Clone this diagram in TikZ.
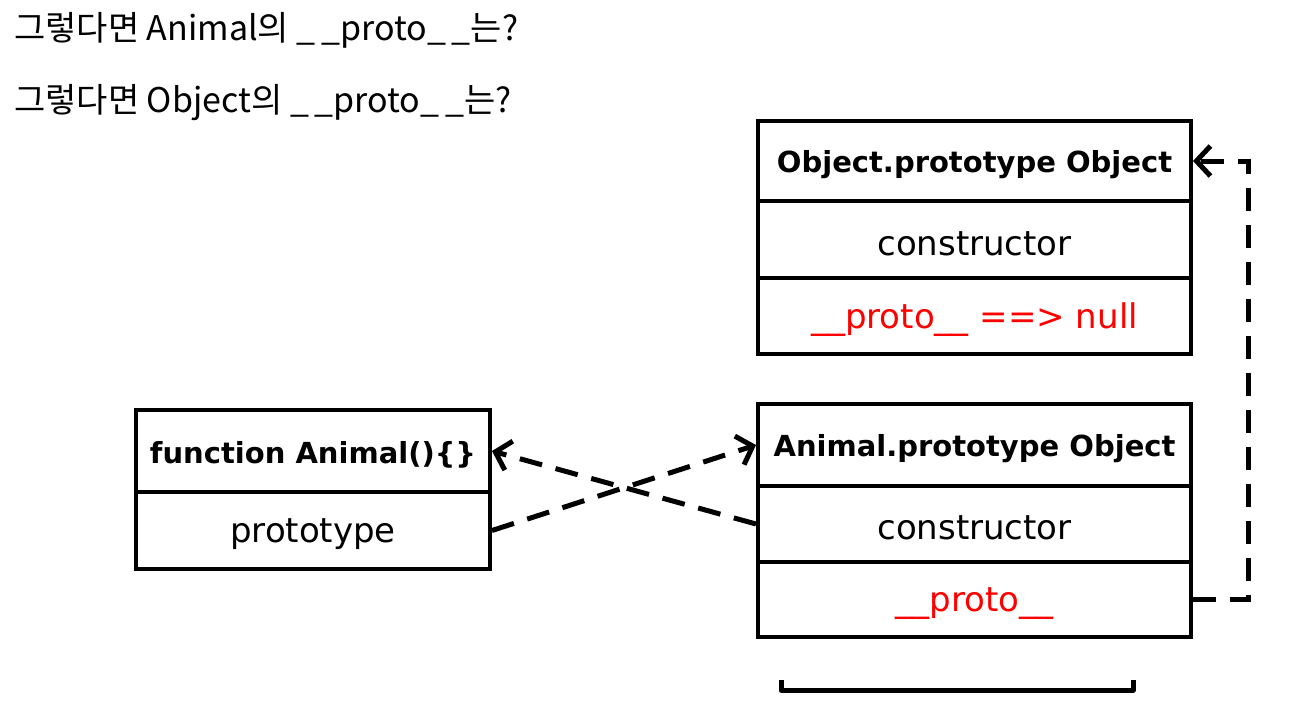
\documentclass[tikz,border=0pt]{standalone}
\usepackage{fontspec}
\setmainfont{DejaVu Sans}
\newfontfamily\kofont{Noto Sans CJK KR}
\usetikzlibrary{arrows.meta,calc}
\definecolor{pred}{HTML}{FF0000}
\newcommand{\lowr}[1]{\raisebox{-4pt}[\height][\depth]{#1}}
\tikzset{
  cell/.style={draw, line width=4pt, inner sep=0pt, rectangle, minimum width=433pt},
  fcell/.style={cell, minimum width=354pt},
  headtxt/.style={font=\fontsize{29}{32}\selectfont\bfseries},
  bodytxt/.style={font=\fontsize{34}{38}\selectfont},
  qtxt/.style={font=\kofont\fontsize{34}{38}\selectfont, anchor=west, inner sep=0pt},
  link/.style={line width=5pt, dash pattern=on 23pt off 14pt, -{Straight Barb[length=14pt,width=30pt,line width=5pt]}},
}
\begin{document}
\begin{tikzpicture}[x=1pt,y=-1pt]
\useasboundingbox (0,0) rectangle (1289,705);
\node[qtxt] (q1) at (14,30) {그렇다면 Animal의 \_\,\_proto\_\,\_는?};
\node[qtxt] (q2) at (14,103) {그렇다면 Object의 \_\,\_proto\_\,\_는?};
% Object.prototype
\node[cell, minimum height=80pt, headtxt] (oh) at (974.5,161) {\lowr{Object.prototype Object}};
\node[cell, minimum height=77pt, bodytxt] (oc) at (974.5,239.5) {\lowr{constructor}};
\node[cell, minimum height=76pt, bodytxt, text=pred] (op) at (974.5,316) {\lowr{\_\_proto\_\_ ==> null}};
% Animal.prototype
\node[cell, minimum height=82pt, headtxt] (ah) at (974.5,445) {\lowr{Animal.prototype Object}};
\node[cell, minimum height=76pt, bodytxt] (ac) at (974.5,524) {\lowr{constructor}};
\node[cell, minimum height=75pt, bodytxt, text=pred] (ap) at (974.5,599.5) {\lowr{\_\_proto\_\_}};
% function Animal
\node[fcell, minimum height=82pt, headtxt] (fh) at (313,451) {\lowr{function Animal()\{\}}};
\node[fcell, minimum height=77pt, bodytxt] (fp) at (313,530.5) {\lowr{prototype}};
% connectors
\draw[link] (fp.east) -- (ah.west);
\draw[link] (ac.west) -- (fh.east);
\draw[link] (ap.east) -- ++(55,0) |- (oh.east);
% bracket
\coordinate (b1) at (781,680);
\coordinate (b2) at (1133,680);
\draw[line width=5pt, line join=round] (b1) -- ++(0,10) -| (b2);
\end{tikzpicture}
\end{document}
